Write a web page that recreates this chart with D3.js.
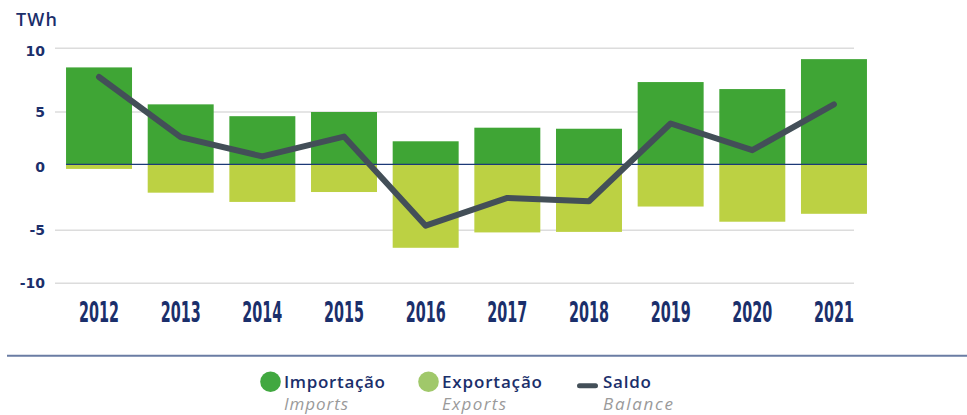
<!DOCTYPE html>
<html>
<head>
<meta charset="utf-8">
<script src="https://cdn.jsdelivr.net/npm/d3@7"></script>
<style>
  html, body { margin: 0; padding: 0; background: #fff; }
  svg { display: block; }
</style>
</head>
<body>
<svg id="chart" width="967" height="415"></svg>
<script>
// values in TWh
const years = ['2012', '2013', '2014', '2015', '2016', '2017', '2018', '2019', '2020', '2021'];
const imports = [8.5, 5.6, 4.6, 5.0, 2.2, 3.5, 3.4, 7.35, 6.8, 9.15];
const exports = [-0.35, -2.15, -2.85, -2.1, -6.65, -5.2, -5.15, -3.2, -4.35, -3.75];
const balance = [7.75, 2.6, 0.75, 2.65, -4.65, -2.55, -2.8, 3.9, 1.35, 5.6];
const yTicks = [10, 5, 0, -5, -10];

const legendItems = [
  { key: 'imp', pt: 'Importação', en: 'Imports' },
  { key: 'exp', pt: 'Exportação', en: 'Exports' },
  { key: 'bal', pt: 'Saldo', en: 'Balance' },
];

const navy = '#1b2f6b';
const colImp = '#3fa535';
const colExp = '#bcd143';
const colLine = '#434f58';

const svg = d3.select('#chart');

const x = d3.scaleBand()
  .domain(years)
  .range([58.2, 874.8])
  .paddingInner(0.192)
  .paddingOuter(0.096);

// the source axis is not evenly spaced, so the scale follows its gridlines
const y = d3.scaleLinear()
  .domain([-10, -5, 0, 5, 10])
  .range([283.3, 230.3, 164.3, 112, 48.3]);

// unit label
svg.append('text')
  .attr('x', 16)
  .attr('y', 26)
  .attr('fill', navy)
  .style('font-family', '"Open Sans", sans-serif')
  .style('font-weight', 600)
  .style('font-size', '18px')
  .attr('textLength', 41)
  .text('TWh');

// gridlines
svg.append('g')
  .selectAll('line')
  .data(yTicks.filter((d) => d !== 0))
  .join('line')
  .attr('x1', 55)
  .attr('x2', 854)
  .attr('y1', (d) => y(d))
  .attr('y2', (d) => y(d))
  .attr('stroke', '#dcdcdc')
  .attr('stroke-width', 1.5);

// y tick labels
svg.append('g')
  .selectAll('text')
  .data(yTicks)
  .join('text')
  .attr('x', 45)
  .attr('y', (d) => y(d) + (d === 10 || d === 0 ? 3 : 0))
  .attr('dy', '0.36em')
  .attr('text-anchor', 'end')
  .attr('fill', navy)
  .style('font-family', '"DejaVu Sans", sans-serif')
  .style('font-weight', 'bold')
  .style('font-size', '14px')
  .text((d) => d);

// bars
svg.append('g')
  .selectAll('rect')
  .data(years)
  .join('rect')
  .attr('x', (d) => x(d))
  .attr('width', x.bandwidth())
  .attr('y', (d, i) => y(imports[i]))
  .attr('height', (d, i) => y(0) - y(imports[i]))
  .attr('fill', colImp);

svg.append('g')
  .selectAll('rect')
  .data(years)
  .join('rect')
  .attr('x', (d) => x(d))
  .attr('width', x.bandwidth())
  .attr('y', y(0))
  .attr('height', (d, i) => y(exports[i]) - y(0))
  .attr('fill', colExp);

// zero line
svg.append('line')
  .attr('x1', x(years[0]))
  .attr('x2', x(years[years.length - 1]) + x.bandwidth())
  .attr('y1', y(0))
  .attr('y2', y(0))
  .attr('stroke', '#1d3a78')
  .attr('stroke-width', 1.2);

// balance line
const line = d3.line()
  .x((d, i) => x(years[i]) + x.bandwidth() / 2)
  .y((d) => y(d));

svg.append('path')
  .datum(balance)
  .attr('d', line)
  .attr('fill', 'none')
  .attr('stroke', colLine)
  .attr('stroke-width', 6)
  .attr('stroke-linecap', 'round')
  .attr('stroke-linejoin', 'round');

// x labels
svg.append('g')
  .selectAll('text')
  .data(years)
  .join('text')
  .attr('x', (d) => x(d) + x.bandwidth() / 2)
  .attr('y', 322)
  .attr('text-anchor', 'middle')
  .attr('fill', navy)
  .style('font-family', '"DejaVu Sans Condensed", "DejaVu Sans", sans-serif')
  .style('font-weight', 'bold')
  .style('font-size', '28px')
  .attr('textLength', 40)
  .attr('lengthAdjust', 'spacingAndGlyphs')
  .text((d) => d);

// separator
svg.append('line')
  .attr('x1', 7)
  .attr('x2', 967)
  .attr('y1', 355.7)
  .attr('y2', 355.7)
  .attr('stroke', '#6a7ca3')
  .attr('stroke-width', 2);

// legend
const legendX = [284, 442, 603];
const legendW = [101, 100, 48];
const legendEnW = [64, 64, 70];
const legend = svg.append('g')
  .selectAll('g')
  .data(legendItems)
  .join('g')
  .attr('transform', (d, i) => `translate(${legendX[i]},0)`);

legend.filter((d) => d.key !== 'bal')
  .append('circle')
  .attr('cx', -13.5)
  .attr('cy', 381.7)
  .attr('r', 10.3)
  .attr('fill', (d) => (d.key === 'imp' ? '#41a840' : '#a0c86a'));

legend.filter((d) => d.key === 'bal')
  .append('line')
  .attr('x1', -23.5)
  .attr('x2', -7.5)
  .attr('y1', 385.7)
  .attr('y2', 385.7)
  .attr('stroke', colLine)
  .attr('stroke-width', 5)
  .attr('stroke-linecap', 'round');

legend.append('text')
  .attr('y', 388.3)
  .attr('fill', navy)
  .style('font-family', '"Open Sans", sans-serif')
  .style('font-weight', 600)
  .style('font-size', '17px')
  .attr('textLength', (d, i) => legendW[i])
  .text((d) => d.pt);

legend.append('text')
  .attr('y', 410)
  .attr('fill', '#9a9a9a')
  .style('font-family', '"Open Sans", sans-serif')
  .style('font-style', 'italic')
  .style('font-size', '17px')
  .attr('textLength', (d, i) => legendEnW[i])
  .text((d) => d.en);
</script>
</body>
</html>
